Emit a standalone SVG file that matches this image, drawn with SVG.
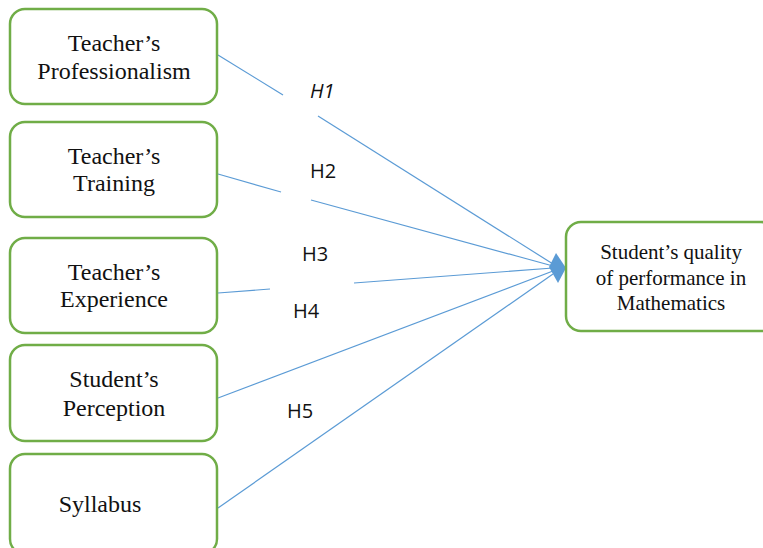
<svg xmlns="http://www.w3.org/2000/svg" width="763" height="548" viewBox="0 0 763 548">
<style>
.box{fill:#fff;stroke:#70AD47;stroke-width:2.5}
.t{font-family:"Liberation Serif",serif;font-size:24px;fill:#111;text-anchor:middle}
.tr{font-family:"Liberation Serif",serif;font-size:21px;fill:#111;text-anchor:middle}
.h{font-family:"Open Sans","Liberation Sans",sans-serif;font-size:20px;fill:#111}
.c{stroke:#5B9BD5;stroke-width:1.2;fill:none}
</style>
<rect width="763" height="548" fill="#fff"/>
<g id="connectors">
<line class="c" x1="218" y1="55" x2="283" y2="95"/>
<line class="c" x1="318" y1="116" x2="553" y2="264"/>
<line class="c" x1="218" y1="174" x2="281" y2="192"/>
<line class="c" x1="311" y1="200" x2="553" y2="266"/>
<line class="c" x1="218" y1="293" x2="270" y2="289"/>
<line class="c" x1="354" y1="283" x2="553" y2="268"/>
<line class="c" x1="218" y1="398" x2="553" y2="271"/>
<line class="c" x1="218" y1="508" x2="553" y2="274"/>
<polygon points="549,267 556,253 566,268 558,283" fill="#5B9BD5"/>
<text class="h" x="310" y="98" font-style="italic">H1</text>
<text class="h" x="310" y="178">H2</text>
<text class="h" x="302" y="261">H3</text>
<text class="h" x="293" y="318">H4</text>
<text class="h" x="287" y="418">H5</text>
</g>
<g id="n1"><rect class="box" x="10" y="9" width="207" height="95" rx="15"/>
<text class="t" x="114" y="51">Teacher’s</text><text class="t" x="114" y="79">Professionalism</text></g>
<g id="n2"><rect class="box" x="10" y="122" width="207" height="95" rx="15"/>
<text class="t" x="114" y="164">Teacher’s</text><text class="t" x="114" y="191">Training</text></g>
<g id="n3"><rect class="box" x="10" y="238" width="207" height="95" rx="15"/>
<text class="t" x="114" y="280">Teacher’s</text><text class="t" x="114" y="307">Experience</text></g>
<g id="n4"><rect class="box" x="10" y="345" width="207" height="96" rx="15"/>
<text class="t" x="114" y="387">Student’s</text><text class="t" x="114" y="416">Perception</text></g>
<g id="n5"><rect class="box" x="10" y="454" width="207" height="100" rx="15"/>
<text class="t" x="100" y="512">Syllabus</text></g>
<g id="n6"><rect class="box" x="566" y="222" width="210" height="109" rx="15"/>
<text class="tr" x="671" y="259">Student’s quality</text><text class="tr" x="671" y="285">of performance in</text><text class="tr" x="671" y="310">Mathematics</text></g>
</svg>
